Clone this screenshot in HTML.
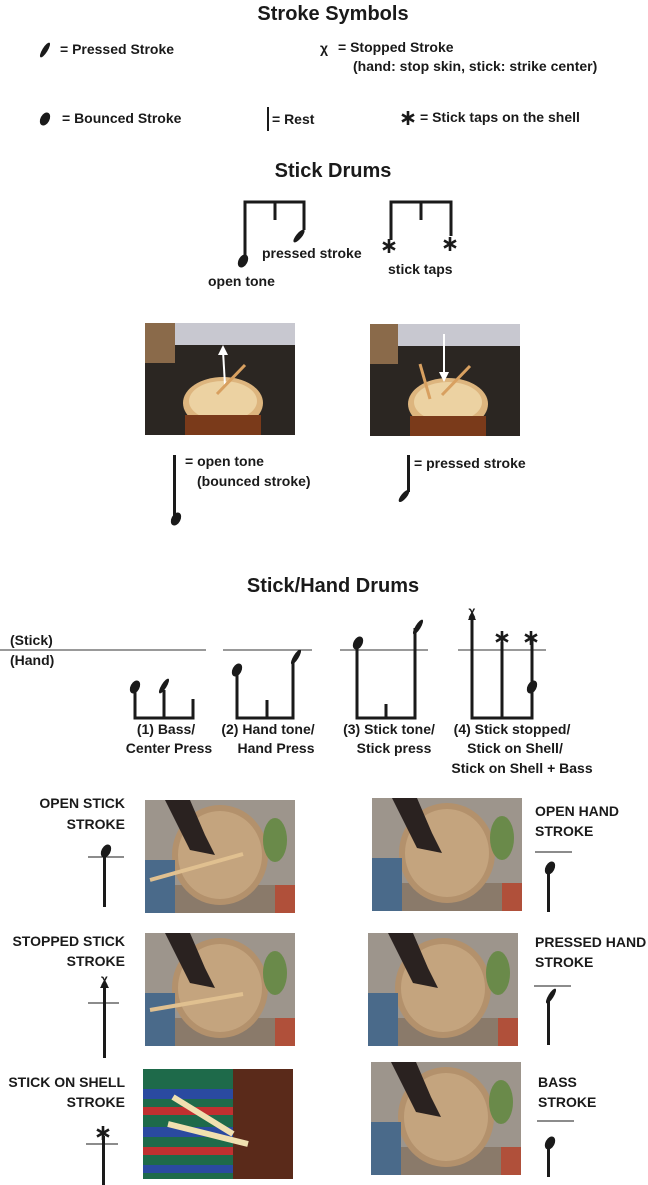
<!DOCTYPE html>
<html><head><meta charset="utf-8"><style>
html,body{margin:0;padding:0;background:#fff;}
svg{display:block;}
text{font-family:"Liberation Sans",sans-serif;fill:#1a1a1a;}
.t{font-size:20px;font-weight:bold;}
.l{font-size:14px;font-weight:bold;}
.c{font-size:14px;font-weight:bold;}
</style></head><body>
<svg width="648" height="1185" viewBox="0 0 648 1185" xmlns="http://www.w3.org/2000/svg">
<defs>
<g id="oval"><ellipse cx="0" cy="0" rx="4.5" ry="7" transform="rotate(28)" fill="#1a1a1a"/></g>
<g id="press"><ellipse cx="0" cy="0" rx="2.6" ry="8.5" transform="rotate(32)" fill="#1a1a1a"/></g>
<g id="ast" stroke="#1a1a1a" stroke-width="2.6"><line x1="0" y1="-7" x2="0" y2="7"/><line x1="-6" y1="-3.5" x2="6" y2="3.5"/><line x1="-6" y1="3.5" x2="6" y2="-3.5"/></g>
<g id="wallphoto">
<rect x="0" y="0" width="150" height="113" fill="#9d958c"/>
<rect x="0" y="85" width="150" height="28" fill="#8a7a6a"/>
<ellipse cx="75" cy="55" rx="48" ry="50" fill="#b3916c"/>
<ellipse cx="75" cy="55" rx="42" ry="44" fill="#c4a47e"/>
<rect x="0" y="60" width="30" height="53" fill="#4a6a8a"/>
<rect x="130" y="85" width="20" height="28" fill="#b0503a"/>
<path d="M20,0 L45,0 L60,35 L70,55 L45,50 L35,30 Z" fill="#2a2220"/>
<ellipse cx="130" cy="40" rx="12" ry="22" fill="#6a8a4a"/>
</g>
</defs>

<text class="t" x="333" y="20" text-anchor="middle">Stroke Symbols</text>
<use href="#press" x="45" y="50"/>
<text class="l" x="60" y="54">= Pressed Stroke</text>
<text class="l" x="320" y="53">χ</text>
<text class="l" x="338" y="52">= Stopped Stroke</text>
<text class="l" x="353" y="71">(hand: stop skin, stick: strike center)</text>
<use href="#oval" x="45" y="119"/>
<text class="l" x="62" y="123">= Bounced Stroke</text>
<rect x="267" y="107" width="2" height="24" fill="#1a1a1a"/>
<text class="l" x="272" y="124">= Rest</text>
<use href="#ast" x="408" y="118"/>
<text class="l" x="420" y="122">= Stick taps on the shell</text>

<text class="t" x="333" y="177" text-anchor="middle">Stick  Drums</text>
<g stroke="#1a1a1a" stroke-width="3" fill="none">
<path d="M245,262 L245,202 L304,202 L304,230"/>
<line x1="275" y1="202" x2="275" y2="220"/>
<path d="M391,240 L391,202 L451,202 L451,236"/>
<line x1="421" y1="202" x2="421" y2="220"/>
</g>
<use href="#oval" x="243" y="261"/>
<ellipse cx="299" cy="236" rx="2.8" ry="8" transform="rotate(40 299 236)" fill="#1a1a1a"/>
<use href="#ast" x="389" y="246"/>
<use href="#ast" x="450" y="244"/>
<text class="l" x="262" y="258">pressed stroke</text>
<text class="l" x="208" y="286">open tone</text>
<text class="l" x="388" y="274">stick taps</text>

<g transform="translate(145,323)">
<rect width="150" height="112" fill="#2b2622"/>
<rect x="0" y="0" width="150" height="22" fill="#c8c8d0"/>
<rect x="0" y="0" width="30" height="40" fill="#8a6a4a"/>
<ellipse cx="78" cy="80" rx="40" ry="26" fill="#ddb57e"/>
<ellipse cx="78" cy="78" rx="34" ry="20" fill="#ecd2a2"/>
<rect x="40" y="92" width="76" height="20" fill="#7a3a1a"/>
<line x1="80" y1="62" x2="78" y2="28" stroke="#fff" stroke-width="2"/>
<path d="M73,32 L78,22 L83,32 Z" fill="#fff"/>
<line x1="72" y1="71" x2="100" y2="42" stroke="#d8a060" stroke-width="3"/>
</g>
<g transform="translate(370,324)">
<rect width="150" height="112" fill="#2b2622"/>
<rect x="0" y="0" width="150" height="22" fill="#c8c8d0"/>
<rect x="0" y="0" width="28" height="40" fill="#8a6a4a"/>
<ellipse cx="78" cy="80" rx="40" ry="26" fill="#ddb57e"/>
<ellipse cx="78" cy="78" rx="34" ry="20" fill="#ecd2a2"/>
<rect x="40" y="92" width="76" height="20" fill="#7a3a1a"/>
<line x1="74" y1="10" x2="74" y2="50" stroke="#fff" stroke-width="2"/>
<path d="M69,48 L74,58 L79,48 Z" fill="#fff"/>
<line x1="72" y1="71" x2="100" y2="42" stroke="#d8a060" stroke-width="3"/>
<line x1="50" y1="40" x2="60" y2="75" stroke="#d8a060" stroke-width="3"/>
</g>

<rect x="173" y="455" width="3" height="63" fill="#1a1a1a"/>
<use href="#oval" x="176" y="519"/>
<text class="l" x="185" y="466">= open tone</text>
<text class="l" x="197" y="486">(bounced stroke)</text>
<rect x="407" y="455" width="3" height="37" fill="#1a1a1a"/>
<ellipse cx="404" cy="496" rx="2.8" ry="7.5" transform="rotate(40 404 496)" fill="#1a1a1a"/>
<text class="l" x="414" y="468">= pressed stroke</text>

<text class="t" x="333" y="592" text-anchor="middle">Stick/Hand Drums</text>
<text class="l" x="10" y="645">(Stick)</text>
<text class="l" x="10" y="665">(Hand)</text>
<g stroke="#333" stroke-width="1">
<line x1="0" y1="650" x2="206" y2="650"/>
<line x1="223" y1="650" x2="312" y2="650"/>
<line x1="340" y1="650" x2="428" y2="650"/>
<line x1="458" y1="650" x2="546" y2="650"/>
</g>
<g stroke="#1a1a1a" stroke-width="3" fill="none">
<path d="M135,690 L135,718 L193,718 L193,699"/>
<line x1="164" y1="718" x2="164" y2="690"/>
<path d="M237,672 L237,718 L293,718 L293,660"/>
<line x1="267" y1="718" x2="267" y2="700"/>
<path d="M357,645 L357,718 L415,718 L415,628"/>
<line x1="386" y1="718" x2="386" y2="704"/>
<path d="M472,618 L472,718 L532,718 L532,640"/>
<line x1="502" y1="718" x2="502" y2="642"/>
</g>
<use href="#oval" x="135" y="687"/>
<use href="#press" x="164" y="686"/>
<use href="#oval" x="237" y="670"/>
<use href="#press" x="296" y="657"/>
<use href="#oval" x="358" y="643"/>
<use href="#press" x="418" y="627"/>
<path d="M468,620 L472,612 L476,620 Z" fill="#1a1a1a"/>
<text class="l" x="472" y="615" text-anchor="middle" style="font-size:12px">χ</text>
<use href="#ast" x="502" y="638"/>
<use href="#ast" x="531" y="638"/>
<use href="#oval" x="532" y="687"/>

<text class="c" x="166" y="734" text-anchor="middle">(1) Bass/</text>
<text class="c" x="169" y="753" text-anchor="middle">Center Press</text>
<text class="c" x="268" y="734" text-anchor="middle">(2) Hand tone/</text>
<text class="c" x="276" y="753" text-anchor="middle">Hand Press</text>
<text class="c" x="389" y="734" text-anchor="middle">(3) Stick tone/</text>
<text class="c" x="394" y="753" text-anchor="middle">Stick press</text>
<text class="c" x="512" y="734" text-anchor="middle">(4) Stick stopped/</text>
<text class="c" x="515" y="753" text-anchor="middle">Stick on Shell/</text>
<text class="c" x="522" y="773" text-anchor="middle">Stick on Shell + Bass</text>

<use href="#wallphoto" x="145" y="800"/>
<line x1="150" y1="880" x2="243" y2="854" stroke="#e0c090" stroke-width="4"/>
<use href="#wallphoto" x="372" y="798"/>
<use href="#wallphoto" x="145" y="933"/>
<line x1="150" y1="1010" x2="243" y2="994" stroke="#e0c090" stroke-width="4"/>
<use href="#wallphoto" x="368" y="933"/>
<g transform="translate(143,1069)">
<rect width="150" height="110" fill="#1e6a4a"/>
<rect x="0" y="20" width="90" height="10" fill="#2a4aa0"/>
<rect x="0" y="38" width="90" height="8" fill="#c03030"/>
<rect x="0" y="58" width="90" height="10" fill="#2a4aa0"/>
<rect x="0" y="78" width="90" height="8" fill="#c03030"/>
<rect x="0" y="96" width="90" height="8" fill="#2a4aa0"/>
<rect x="90" y="0" width="60" height="110" fill="#5a2a1a"/>
<line x1="30" y1="28" x2="90" y2="65" stroke="#f0e0b0" stroke-width="6"/>
<line x1="25" y1="55" x2="105" y2="75" stroke="#f0e0b0" stroke-width="6"/>
</g>
<use href="#wallphoto" x="371" y="1062"/>

<text class="c" x="125" y="808" text-anchor="end">OPEN STICK</text>
<text class="c" x="125" y="829" text-anchor="end">STROKE</text>
<line x1="88" y1="857" x2="124" y2="857" stroke="#1a1a1a" stroke-width="1"/>
<rect x="103" y="852" width="3" height="55" fill="#1a1a1a"/>
<use href="#oval" x="106" y="851"/>

<text class="c" x="125" y="946" text-anchor="end">STOPPED STICK</text>
<text class="c" x="125" y="966" text-anchor="end">STROKE</text>
<line x1="88" y1="1003" x2="119" y2="1003" stroke="#1a1a1a" stroke-width="1"/>
<rect x="103" y="985" width="3" height="73" fill="#1a1a1a"/>
<path d="M100,988 L104.5,980 L109,988 Z" fill="#1a1a1a"/>
<text class="c" x="104.5" y="983" text-anchor="middle" style="font-size:12px">χ</text>

<text class="c" x="125" y="1087" text-anchor="end">STICK ON SHELL</text>
<text class="c" x="125" y="1107" text-anchor="end">STROKE</text>
<line x1="86" y1="1144" x2="118" y2="1144" stroke="#1a1a1a" stroke-width="1"/>
<rect x="102" y="1136" width="3" height="49" fill="#1a1a1a"/>
<use href="#ast" x="103" y="1133"/>

<text class="c" x="535" y="816">OPEN HAND</text>
<text class="c" x="535" y="836">STROKE</text>
<line x1="535" y1="852" x2="572" y2="852" stroke="#1a1a1a" stroke-width="1"/>
<rect x="547" y="870" width="3" height="42" fill="#1a1a1a"/>
<use href="#oval" x="550" y="868"/>

<text class="c" x="535" y="947">PRESSED HAND</text>
<text class="c" x="535" y="967">STROKE</text>
<line x1="534" y1="986" x2="571" y2="986" stroke="#1a1a1a" stroke-width="1"/>
<rect x="547" y="1000" width="3" height="45" fill="#1a1a1a"/>
<use href="#press" x="551" y="996"/>

<text class="c" x="538" y="1087">BASS</text>
<text class="c" x="538" y="1107">STROKE</text>
<line x1="537" y1="1121" x2="574" y2="1121" stroke="#1a1a1a" stroke-width="1"/>
<rect x="547" y="1146" width="3" height="31" fill="#1a1a1a"/>
<use href="#oval" x="550" y="1143"/>
</svg>
</body></html>
